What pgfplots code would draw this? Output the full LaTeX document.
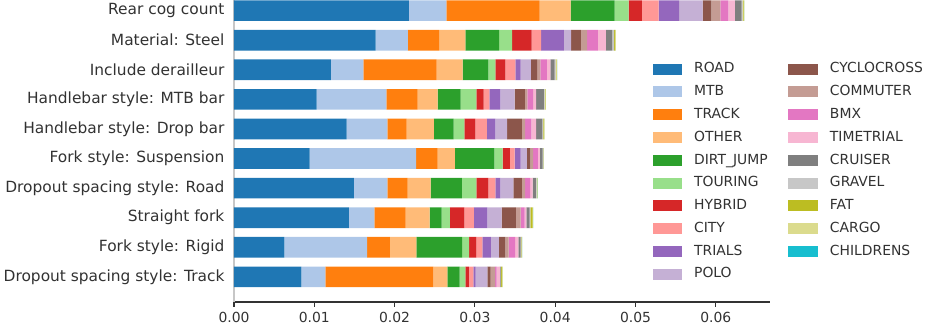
\documentclass[border=0pt]{standalone}
\usepackage{pgfplots}
\pgfplotsset{compat=1.18}
\usepackage{pgfplotstable}
\usepackage{fontspec}
\setmainfont{DejaVu Sans}
% tab20 palette
\definecolor{C1}{RGB}{31,119,180}
\definecolor{C2}{RGB}{174,199,232}
\definecolor{C3}{RGB}{255,127,14}
\definecolor{C4}{RGB}{255,187,120}
\definecolor{C5}{RGB}{44,160,44}
\definecolor{C6}{RGB}{152,223,138}
\definecolor{C7}{RGB}{214,39,40}
\definecolor{C8}{RGB}{255,152,150}
\definecolor{C9}{RGB}{148,103,189}
\definecolor{C10}{RGB}{197,176,213}
\definecolor{C11}{RGB}{140,86,75}
\definecolor{C12}{RGB}{196,156,148}
\definecolor{C13}{RGB}{227,119,194}
\definecolor{C14}{RGB}{247,182,210}
\definecolor{C15}{RGB}{127,127,127}
\definecolor{C16}{RGB}{199,199,199}
\definecolor{C17}{RGB}{188,189,34}
\definecolor{C18}{RGB}{219,219,141}
\definecolor{C19}{RGB}{23,190,207}
\definecolor{TX}{RGB}{50,50,50}
\definecolor{AX}{RGB}{50,50,50}

\pgfplotsset{
  lg/.style={legend image code/.code={\fill[##1, draw=none] (0pt,-3.95pt) rectangle (21pt,3.95pt);}},
  seg/.style={fill=#1, draw=none, forget plot},
}

% y: 0 = bottom bar ... 9 = top bar
\pgfplotstableread{
y road mtb track other dirt touring hybrid city trials polo cyclo commuter bmx timetrial cruiser gravel fat cargo children
0 0.00839 0.00299 0.01345 0.00174 0.00153 0.00071 0.00045 0.00055 0.00029 0.00146 0.00041 0.00054 0.00019 0.00040 0.00012 0.00006 0.00012 0.00004 0.00001
1 0.00628 0.01029 0.00283 0.00330 0.00570 0.00087 0.00093 0.00072 0.00106 0.00102 0.00080 0.00040 0.00081 0.00040 0.00029 0.00009 0.00007 0.00002 0.00001
2 0.01432 0.00316 0.00390 0.00299 0.00149 0.00103 0.00179 0.00120 0.00167 0.00178 0.00178 0.00059 0.00050 0.00021 0.00041 0.00009 0.00029 0.00004 0.00001
3 0.01494 0.00416 0.00253 0.00286 0.00389 0.00181 0.00149 0.00087 0.00062 0.00162 0.00107 0.00041 0.00062 0.00029 0.00041 0.00009 0.00009 0.00002 0.00001
4 0.00943 0.01324 0.00270 0.00215 0.00491 0.00103 0.00091 0.00059 0.00075 0.00075 0.00046 0.00032 0.00059 0.00025 0.00034 0.00012 0.00002 0.00002 0.00001
5 0.01403 0.00507 0.00240 0.00340 0.00245 0.00133 0.00137 0.00144 0.00105 0.00149 0.00182 0.00042 0.00078 0.00059 0.00075 0.00012 0.00004 0.00012 0.00001
6 0.01030 0.00868 0.00390 0.00249 0.00286 0.00196 0.00091 0.00071 0.00137 0.00178 0.00125 0.00034 0.00070 0.00037 0.00096 0.00009 0.00012 0.00004 0.00001
7 0.01208 0.00403 0.00913 0.00324 0.00320 0.00087 0.00125 0.00125 0.00066 0.00125 0.00078 0.00042 0.00082 0.00042 0.00054 0.00012 0.00009 0.00009 0.00001
8 0.01765 0.00399 0.00390 0.00329 0.00418 0.00164 0.00243 0.00118 0.00283 0.00090 0.00121 0.00078 0.00133 0.00100 0.00078 0.00025 0.00009 0.00012 0.00001
9 0.02179 0.00466 0.01162 0.00386 0.00548 0.00174 0.00166 0.00208 0.00253 0.00295 0.00108 0.00112 0.00100 0.00082 0.00083 0.00012 0.00012 0.00009 0.00002
}\shares

\begin{document}
\begin{tikzpicture}
\begin{axis}[
  scale only axis, width=386.2pt, height=217.44pt,
  xbar stacked, bar width=0.7,
  xmin=0, xmax=0.0668, ymin=-0.85, ymax=9.36,
  axis lines=left, axis line style={-},
  x axis line style={draw=AX, line width=0.8pt},
  y axis line style={draw=black!22, line width=0.8pt},
  tick align=outside, major tick length=3.5pt,
  xtick={0,0.01,0.02,0.03,0.04,0.05,0.06},
  xtick style={draw=AX, line width=0.8pt},
  ytick style={draw=none},
  scaled x ticks=false,
  /pgf/number format/assume math mode=true,
  xticklabel style={/pgf/number format/.cd, fixed, fixed zerofill, precision=2},
  ticklabel style={font=\fontsize{10}{12}\selectfont, text=TX},
  yticklabel style={inner sep=3.2pt, font=\fontsize{11.1}{13}\selectfont},
  ytick={0,...,9},
  yticklabels={Dropout spacing style: Track, Fork style: Rigid, Straight fork,
    Dropout spacing style: Road, Fork style: Suspension, Handlebar style: Drop bar,
    Handlebar style: MTB bar, Include derailleur, Material: Steel, Rear cog count},
  legend columns=2, legend cell align=left,
  legend style={draw=none, fill=none, at={(axis cs:0.0521,7.25)}, anchor=north west,
    font=\fontsize{10}{12}\selectfont, text=TX, inner sep=0pt, row sep=7.1pt,
    nodes={inner sep=0pt, text height=7.4pt, text depth=1.9pt},
    /tikz/every odd column/.append style={column sep=8.9pt},
    /tikz/every even column/.append style={column sep=15pt}},
]
\addplot[seg=C1] table[x=road, y=y] {\shares};
\addplot[seg=C2] table[x=mtb, y=y] {\shares};
\addplot[seg=C3] table[x=track, y=y] {\shares};
\addplot[seg=C4] table[x=other, y=y] {\shares};
\addplot[seg=C5] table[x=dirt, y=y] {\shares};
\addplot[seg=C6] table[x=touring, y=y] {\shares};
\addplot[seg=C7] table[x=hybrid, y=y] {\shares};
\addplot[seg=C8] table[x=city, y=y] {\shares};
\addplot[seg=C9] table[x=trials, y=y] {\shares};
\addplot[seg=C10] table[x=polo, y=y] {\shares};
\addplot[seg=C11] table[x=cyclo, y=y] {\shares};
\addplot[seg=C12] table[x=commuter, y=y] {\shares};
\addplot[seg=C13] table[x=bmx, y=y] {\shares};
\addplot[seg=C14] table[x=timetrial, y=y] {\shares};
\addplot[seg=C15] table[x=cruiser, y=y] {\shares};
\addplot[seg=C16] table[x=gravel, y=y] {\shares};
\addplot[seg=C17] table[x=fat, y=y] {\shares};
\addplot[seg=C18] table[x=cargo, y=y] {\shares};
\addplot[seg=C19] table[x=children, y=y] {\shares};
% legend filled column by column, as in the original
\addlegendimage{lg, fill=C1}  \addlegendentry{ROAD}
\addlegendimage{lg, fill=C11} \addlegendentry{CYCLOCROSS}
\addlegendimage{lg, fill=C2}  \addlegendentry{MTB}
\addlegendimage{lg, fill=C12} \addlegendentry{COMMUTER}
\addlegendimage{lg, fill=C3}  \addlegendentry{TRACK}
\addlegendimage{lg, fill=C13} \addlegendentry{BMX}
\addlegendimage{lg, fill=C4}  \addlegendentry{OTHER}
\addlegendimage{lg, fill=C14} \addlegendentry{TIMETRIAL}
\addlegendimage{lg, fill=C5}  \addlegendentry{DIRT\_JUMP}
\addlegendimage{lg, fill=C15} \addlegendentry{CRUISER}
\addlegendimage{lg, fill=C6}  \addlegendentry{TOURING}
\addlegendimage{lg, fill=C16} \addlegendentry{GRAVEL}
\addlegendimage{lg, fill=C7}  \addlegendentry{HYBRID}
\addlegendimage{lg, fill=C17} \addlegendentry{FAT}
\addlegendimage{lg, fill=C8}  \addlegendentry{CITY}
\addlegendimage{lg, fill=C18} \addlegendentry{CARGO}
\addlegendimage{lg, fill=C9}  \addlegendentry{TRIALS}
\addlegendimage{lg, fill=C19} \addlegendentry{CHILDRENS}
\addlegendimage{lg, fill=C10} \addlegendentry{POLO}
\end{axis}
\pgfresetboundingbox
\useasboundingbox (-168.48pt,-18pt) rectangle (501.84pt,217.44pt);
\end{tikzpicture}
\end{document}
